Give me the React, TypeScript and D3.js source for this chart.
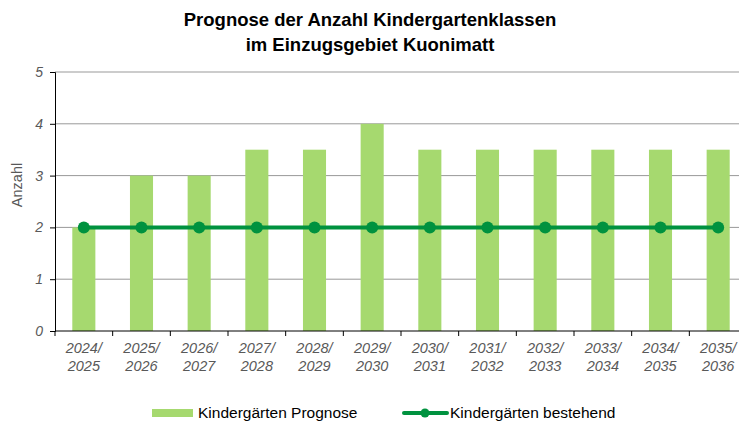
import { useRef, useEffect } from "react";
import * as d3 from "d3";

const years = [
  "2024/2025", "2025/2026", "2026/2027", "2027/2028", "2028/2029", "2029/2030",
  "2030/2031", "2031/2032", "2032/2033", "2033/2034", "2034/2035", "2035/2036",
];
const prognose = [2, 3, 3, 3.5, 3.5, 4, 3.5, 3.5, 3.5, 3.5, 3.5, 3.5];
const bestehend = [2, 2, 2, 2, 2, 2, 2, 2, 2, 2, 2, 2];
const yTicks = [0, 1, 2, 3, 4, 5];

const width = 739;
const height = 421;

export default function App() {
  const ref = useRef<SVGSVGElement>(null);

  useEffect(() => {
    if (!ref.current) return;
    const svg = d3.select(ref.current);
    svg.selectAll("*").remove();

    const font = "'Liberation Sans', Arial, sans-serif";
    const grey = "#595959";

    const x = d3.scaleBand().domain(years).range([55, 747]).paddingInner(0.6).paddingOuter(0.3);
    const xStep = d3.scaleBand().domain(years).range([55, 747]);
    const y = d3.scaleLinear().domain([0, 5]).range([331, 72]);

    // Title
    const title = svg.append("text")
      .attr("text-anchor", "middle")
      .attr("font-family", font)
      .attr("font-weight", "bold")
      .attr("font-size", 18.5)
      .attr("fill", "#000");
    title.append("tspan").attr("x", 370).attr("y", 26).text("Prognose der Anzahl Kindergartenklassen");
    title.append("tspan").attr("x", 370).attr("y", 51).text("im Einzugsgebiet Kuonimatt");

    // Gridlines
    svg.append("g")
      .selectAll("line")
      .data(yTicks.slice(1))
      .join("line")
      .attr("x1", 55)
      .attr("x2", width)
      .attr("y1", (d) => y(d))
      .attr("y2", (d) => y(d))
      .attr("stroke", "#999")
      .attr("stroke-width", 1);

    // Bars
    svg.append("g")
      .selectAll("rect")
      .data(prognose)
      .join("rect")
      .attr("x", (_, i) => x(years[i]) as number)
      .attr("width", x.bandwidth())
      .attr("y", (d) => y(d))
      .attr("height", (d) => y(0) - y(d))
      .attr("fill", "#a6d96f");

    // Y axis
    const yAxis = svg.append("g")
      .attr("transform", "translate(55,0)")
      .call(d3.axisLeft(y).tickValues(yTicks).tickSize(5).tickFormat(d3.format("d")));
    yAxis.select(".domain").attr("stroke", "#000");
    yAxis.selectAll(".tick line").attr("stroke", "#000");
    yAxis.selectAll("text")
      .attr("font-family", font)
      .attr("font-style", "italic")
      .attr("font-size", 14)
      .attr("fill", grey)
      .attr("x", -12);

    // X axis line and ticks
    svg.append("line")
      .attr("x1", 55).attr("x2", width)
      .attr("y1", 331).attr("y2", 331)
      .attr("stroke", "#000");
    svg.append("g")
      .selectAll("line")
      .data(years)
      .join("line")
      .attr("x1", (d) => xStep(d) as number)
      .attr("x2", (d) => xStep(d) as number)
      .attr("y1", 331)
      .attr("y2", 336)
      .attr("stroke", "#000");

    // X labels
    const xl = svg.append("g")
      .selectAll("text")
      .data(years)
      .join("text")
      .attr("text-anchor", "middle")
      .attr("font-family", font)
      .attr("font-style", "italic")
      .attr("font-size", 14.5)
      .attr("fill", grey);
    xl.each(function (d) {
      const cx = (xStep(d) as number) + xStep.bandwidth() / 2;
      const [a, b] = d.split("/");
      const t = d3.select(this);
      t.append("tspan").attr("x", cx).attr("y", 353).text(a + "/");
      t.append("tspan").attr("x", cx).attr("y", 371).text(b);
    });

    // Y label
    svg.append("text")
      .attr("transform", "translate(22,185) rotate(-90)")
      .attr("text-anchor", "middle")
      .attr("font-family", font)
      .attr("font-size", 14.5)
      .attr("fill", grey)
      .text("Anzahl");

    // Line
    const cxOf = (i: number) => (xStep(years[i]) as number) + xStep.bandwidth() / 2;
    const line = d3.line<number>().x((_, i) => cxOf(i)).y((d) => y(d));
    const lineColor = "#00923f";
    svg.append("path")
      .datum(bestehend)
      .attr("fill", "none")
      .attr("stroke", lineColor)
      .attr("stroke-width", 4)
      .attr("d", line);
    svg.append("g")
      .selectAll("circle")
      .data(bestehend)
      .join("circle")
      .attr("cx", (_, i) => cxOf(i))
      .attr("cy", (d) => y(d))
      .attr("r", 6)
      .attr("fill", lineColor);

    // Legend
    const lg = svg.append("g");
    lg.append("rect")
      .attr("x", 152).attr("y", 409)
      .attr("width", 41).attr("height", 8)
      .attr("fill", "#a6d96f");
    lg.append("text")
      .attr("x", 198).attr("y", 418)
      .attr("font-family", font)
      .attr("font-size", 15.5)
      .attr("fill", "#000")
      .text("Kindergärten Prognose");
    lg.append("line")
      .attr("x1", 404).attr("x2", 447)
      .attr("y1", 413).attr("y2", 413)
      .attr("stroke", lineColor)
      .attr("stroke-width", 4)
      .attr("stroke-linecap", "round");
    lg.append("circle")
      .attr("cx", 425).attr("cy", 413).attr("r", 4.5)
      .attr("fill", lineColor);
    lg.append("text")
      .attr("x", 450).attr("y", 418)
      .attr("font-family", font)
      .attr("font-size", 15.5)
      .attr("fill", "#000")
      .text("Kindergärten bestehend");
  }, []);

  return (
    <svg
      ref={ref}
      width={width}
      height={height}
      style={{ position: "absolute", left: 0, top: 0, background: "#fff" }}
    />
  );
}
